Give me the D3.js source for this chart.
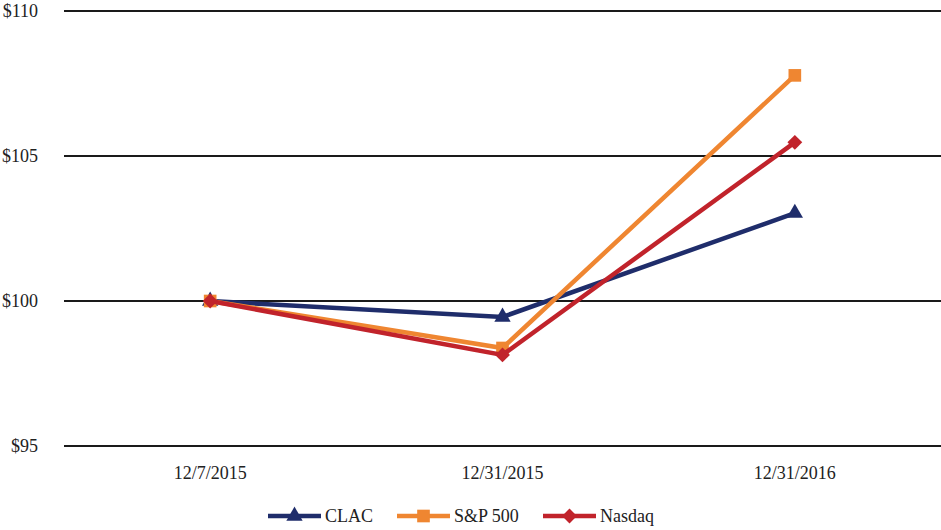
<!DOCTYPE html>
<html><head><meta charset="utf-8">
<script src="https://cdn.jsdelivr.net/npm/d3@7"></script>
<style>body{margin:0;background:#fff}svg{display:block}</style>
</head><body>
<script>
const categories = ["12/7/2015", "12/31/2015", "12/31/2016"];
const seriesNames = ["CLAC", "S&P 500", "Nasdaq"];
const clac = [100, 99.45, 103.03];
const sp500 = [100, 98.38, 107.78];
const nasdaq = [100, 98.14, 105.47];
const yTicks = [95, 100, 105, 110];
const yTickLabels = ["$95", "$100", "$105", "$110"];

const W = 941, H = 530;
const svg = d3.select("body").append("svg").attr("width", W).attr("height", H);
const font = "Liberation Serif, Times New Roman, serif";

const x = d3.scaleBand().domain(categories).range([64, 941]);
const y = d3.scaleLinear().domain([95, 110]).range([446, 11]);

svg.append("g").selectAll("line").data(yTicks).join("line")
  .attr("x1", 64).attr("x2", 941)
  .attr("y1", d => y(d)).attr("y2", d => y(d))
  .attr("stroke", "#1a1a1a").attr("stroke-width", 2);

svg.append("g").selectAll("text").data(yTicks).join("text")
  .attr("x", 38).attr("y", d => y(d)).attr("dy", "0.35em")
  .attr("text-anchor", "end").attr("font-family", font).attr("font-size", 18)
  .attr("fill", "#222").text((d, i) => yTickLabels[i]);

svg.append("g").selectAll("text").data(categories).join("text")
  .attr("x", d => x(d) + x.bandwidth() / 2).attr("y", 473).attr("dy", "0.35em")
  .attr("text-anchor", "middle").attr("font-family", font).attr("font-size", 18)
  .attr("fill", "#222").text(d => d);

const diamond = {draw(ctx, size) {
  const r = Math.sqrt(size / 2);
  ctx.moveTo(0, -r); ctx.lineTo(r, 0); ctx.lineTo(0, r); ctx.lineTo(-r, 0); ctx.closePath();
}};

const series = [
  {name: seriesNames[0], values: clac, color: "#1f2d6b", shape: d3.symbolTriangle, size: 115},
  {name: seriesNames[1], values: sp500, color: "#ef8631", shape: d3.symbolSquare, size: 160},
  {name: seriesNames[2], values: nasdaq, color: "#c1232b", shape: diamond, size: 110}
];
const cx = c => x(c) + x.bandwidth() / 2;
const line = d3.line().x((d, i) => cx(categories[i])).y(d => y(d));

series.forEach(s => {
  const g = svg.append("g");
  g.append("path").datum(s.values).attr("d", line)
    .attr("fill", "none").attr("stroke", s.color).attr("stroke-width", 4.5)
    .attr("stroke-linejoin", "miter");
  g.selectAll("path.m").data(s.values).join("path").attr("class", "m")
    .attr("transform", (d, i) => `translate(${cx(categories[i])},${y(d)})`)
    .attr("d", d3.symbol().type(s.shape).size(s.size)).attr("fill", s.color);
});

const legendX = [268, 397, 543];
const lg = svg.append("g");
series.forEach((s, i) => {
  const lx = legendX[i], ly = 516;
  lg.append("line").attr("x1", lx).attr("x2", lx + 53).attr("y1", ly).attr("y2", ly)
    .attr("stroke", s.color).attr("stroke-width", 4.5);
  lg.append("path").attr("transform", `translate(${lx + 26.5},${ly})`)
    .attr("d", d3.symbol().type(s.shape).size(s.size)).attr("fill", s.color);
  lg.append("text").attr("x", lx + 57).attr("y", ly).attr("dy", "0.35em")
    .attr("font-family", font).attr("font-size", 18).attr("fill", "#222").text(s.name);
});
</script>
</body></html>
